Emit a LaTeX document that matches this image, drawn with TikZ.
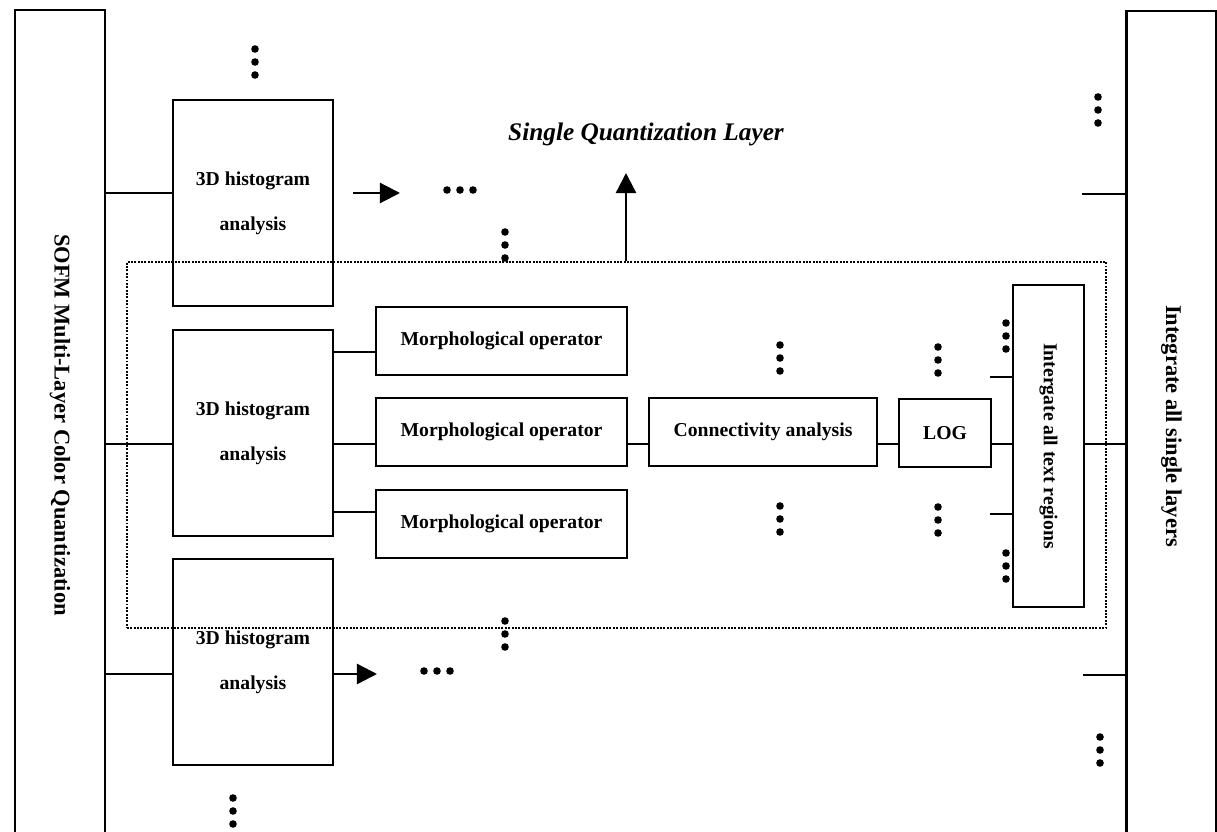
\documentclass[tikz,border=0pt]{standalone}
\usepackage{fontspec}
\setmainfont{Liberation Serif}
\usetikzlibrary{arrows.meta}
\newcommand{\boxFont}{\fontsize{14}{32}\selectfont\bfseries}
\newcommand{\sideFont}{\fontsize{16}{19}\selectfont\bfseries}
\newcommand{\vdotsAt}[2]{\foreach \k in {0,1,2} \fill (#1,#2+13*\k) circle (3.8);}
\newcommand{\hdotsAt}[2]{\foreach \k in {0,1,2} \fill (#1+13*\k,#2) circle (3.8);}

\begin{document}
\begin{tikzpicture}[x=0.025cm, y=-0.025cm, line width=1.6pt]
  \tikzset{every node/.style={font=\boxFont, align=center, inner sep=0pt},
    blk/.style={draw, line width=1.8pt},
    side/.style={blk, font=\sideFont, rotate=-90, minimum width=20.75cm, minimum height=2.25cm},
    hist/.style={blk, minimum width=4cm, minimum height=5.15cm},
    morph/.style={blk, minimum width=6.275cm, minimum height=1.7cm},
    arr/.style={-{Triangle[length=0.5cm,width=0.5cm]}}}
  \useasboundingbox (0,0) rectangle (1217,832);

  \node[side] (sofm) at (60,425) {SOFM Multi-Layer Color Quantization};
  \node[side] (allLayers) at (1171.5,426) {Integrate all single layers};
  \node[draw, densely dotted, line width=1.4pt, minimum width=24.475cm, minimum height=9.15cm] (layer) at (616.5,445) {};

  \node[hist] (hist1) at (253,203) {3D histogram\\analysis};
  \node[hist] (hist2) at (253,433) {3D histogram\\analysis};
  \node[hist] (hist3) at (253,662) {3D histogram\\analysis};

  \node[morph] (morph1) at (501.5,341) {Morphological operator};
  \node[morph] (morph2) at (501.5,432) {Morphological operator};
  \node[morph] (morph3) at (501.5,524) {Morphological operator};
  \node[blk, minimum width=5.7cm, minimum height=1.7cm] (conn) at (763,432) {Connectivity analysis};
  \node[blk, minimum width=2.3cm, minimum height=1.7cm] (log) at (945,433) {LOG};
  \node[blk, rotate=-90, minimum width=8.05cm, minimum height=1.775cm] (allText) at (1048.5,446) {Intergate all text regions};
  \node[font=\fontsize{18}{22}\selectfont\bfseries\itshape] (title) at (646,134) {Single Quantization Layer};

  \coordinate (row1) at (0,193);
  \coordinate (row2) at (0,444);
  \coordinate (row3) at (0,674);
  \coordinate (m1) at (0,352);
  \coordinate (m3) at (0,512);
  \coordinate (a1s) at (353,193);
  \coordinate (a1e) at (400,193);
  \coordinate (a3e) at (377,674);
  \coordinate (qtip) at (626,173);
  \coordinate (t1) at (990,377);
  \coordinate (t3) at (990,514);
  \coordinate (r1) at (1082,194);
  \coordinate (r3) at (1083,675);

  \draw (sofm.north |- row1) -- (hist1.west |- row1);
  \draw (sofm.north |- row2) -- (hist2.west |- row2);
  \draw (sofm.north |- row3) -- (hist3.west |- row3);
  \draw (hist2.east |- m1) -- (morph1.west |- m1);
  \draw (hist2.east |- row2) -- (morph2.west |- row2);
  \draw (hist2.east |- m3) -- (morph3.west |- m3);
  \draw (morph2.east |- row2) -- (conn.west |- row2);
  \draw (conn.east |- row2) -- (log.west |- row2);
  \draw (log.east |- row2) -- (allText.south |- row2);
  \draw (allText.north |- row2) -- (allLayers.south |- row2);
  \draw (t1) -- (allText.south |- t1);
  \draw (t3) -- (allText.south |- t3);
  \draw (r1) -- (allLayers.south |- r1);
  \draw (r3) -- (allLayers.south |- r3);

  \draw[arr] (a1s) -- (a1e);
  \draw[arr] (hist3.east |- row3) -- (a3e);
  \draw[arr] (layer.north -| qtip) -- (qtip);

  \vdotsAt{255}{49}
  \hdotsAt{447}{190}
  \vdotsAt{505}{232}
  \vdotsAt{1098}{97}
  \vdotsAt{780}{345}
  \vdotsAt{780}{506}
  \vdotsAt{938}{347}
  \vdotsAt{938}{507}
  \vdotsAt{1006}{323}
  \vdotsAt{1006}{553}
  \vdotsAt{505}{621}
  \hdotsAt{424}{671}
  \vdotsAt{233}{798}
  \vdotsAt{1100}{737}
\end{tikzpicture}
\end{document}
